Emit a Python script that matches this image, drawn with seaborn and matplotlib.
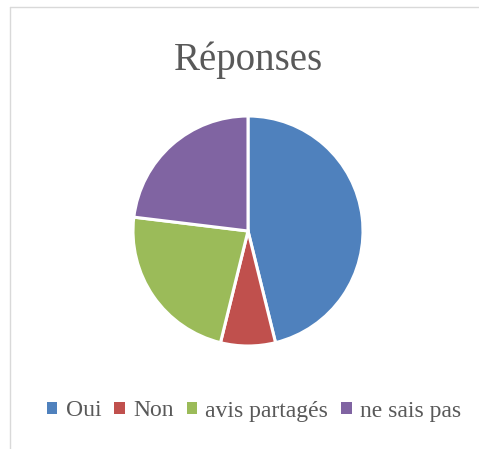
import matplotlib
matplotlib.use("Agg")
import matplotlib.pyplot as plt
from matplotlib.lines import Line2D
from matplotlib.patches import Patch
import seaborn as sns

categories = ["Oui", "Non", "avis partagés", "ne sais pas"]
values = [6, 1, 3, 3]
colors = ["#4F81BD", "#C0504D", "#9BBB59", "#8064A2"]
title = "Réponses"

sns.set_theme(style="white")
plt.rcParams['font.family'] = ['Liberation Serif', 'DejaVu Serif']
palette = sns.color_palette(colors)

W, H = 479, 449
fig = plt.figure(figsize=(W / 100, H / 100), dpi=100)
fig.patch.set_facecolor("white")

cx, cy, r = 248, 231, 115
ax = fig.add_axes([(cx - r) / W, (H - cy - r) / H, 2 * r / W, 2 * r / H])
ax.pie(values, colors=palette, startangle=90, counterclock=False,
       wedgeprops=dict(edgecolor="white", linewidth=2.2))
ax.set_aspect("equal")
ax.set_xlim(-1, 1)
ax.set_ylim(-1, 1)
ax.axis("off")

fig.text(248 / W, 1 - 60 / H, title, ha="center", va="center",
         fontsize=28, color="#595959")

handles = [Patch(facecolor=c, edgecolor="none") for c in palette]
fig.legend(handles, categories, loc="center", bbox_to_anchor=(254 / W, 1 - 411 / H),
           ncol=4, frameon=False, fontsize=17, labelcolor="#595959",
           handlelength=0.45, handleheight=0.45, handletextpad=0.35,
           columnspacing=0.55)

fig.add_artist(Line2D([10 / W, 10 / W], [0, 1 - 7 / H], transform=fig.transFigure,
                      color="#d9d9d9", linewidth=1))
fig.add_artist(Line2D([10 / W, 1], [1 - 7 / H, 1 - 7 / H], transform=fig.transFigure,
                      color="#d9d9d9", linewidth=1))

fig.savefig("out.png", dpi=100, facecolor="white")
